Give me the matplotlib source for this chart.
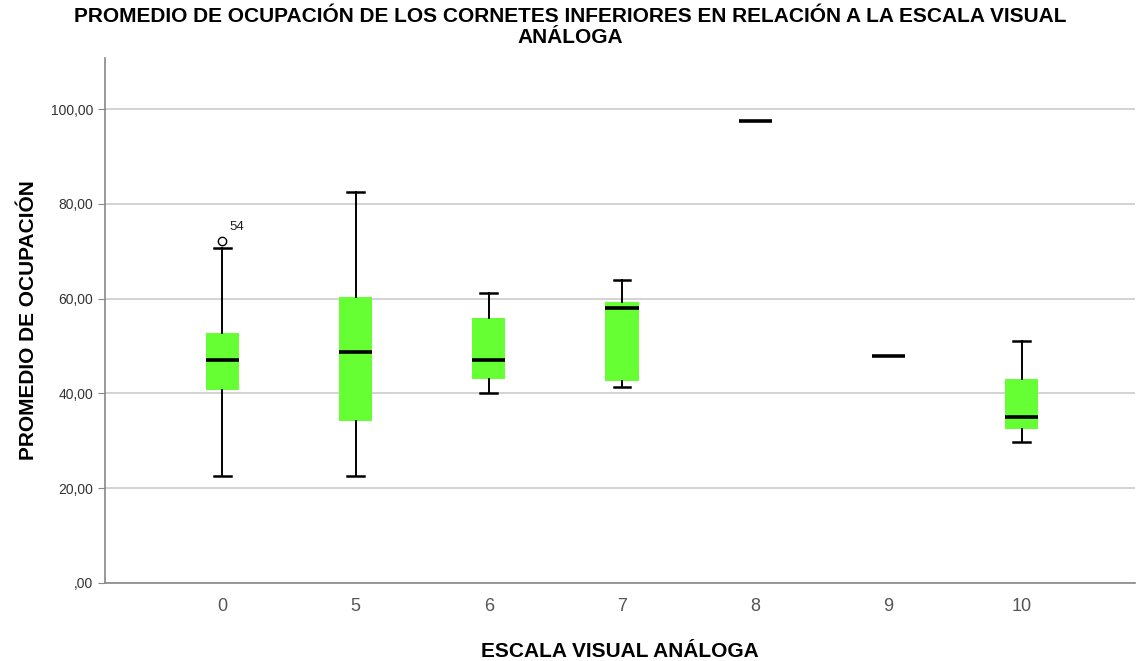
import matplotlib
matplotlib.use("Agg")
import matplotlib.pyplot as plt
from matplotlib.ticker import FuncFormatter

plt.rcParams['font.family'] = ['Liberation Sans', 'DejaVu Sans']

categories = ["0", "5", "6", "7", "8", "9", "10"]
whislo = [22.6, 22.6, 40.1, 41.3, 97.5, 47.9, 29.8]
q1     = [40.7, 34.2, 43.1, 42.6, 97.5, 47.9, 32.5]
median = [47.1, 48.8, 47.1, 58.1, 97.5, 47.9, 35.0]
q3     = [52.7, 60.4, 56.0, 59.3, 97.5, 47.9, 43.0]
whishi = [70.7, 82.5, 61.1, 63.9, 97.5, 47.9, 51.1]
outliers = [[72.2], [], [], [], [], [], []]
outlier_labels = [["54"], [], [], [], [], [], []]

title = "PROMEDIO DE OCUPACIÓN DE LOS CORNETES INFERIORES EN RELACIÓN A LA ESCALA VISUAL\nANÁLOGA"
xlabel = "ESCALA VISUAL ANÁLOGA"
ylabel = "PROMEDIO DE OCUPACIÓN"
yticks = [0, 20, 40, 60, 80, 100]

fig = plt.figure(figsize=(11.41, 6.61), dpi=100)
ax = fig.add_axes([105/1141, 78/661, 1030/1141, 525/661])

stats = []
for i, c in enumerate(categories):
    stats.append(dict(label=c, whislo=whislo[i], q1=q1[i], med=median[i], q3=q3[i],
                      whishi=whishi[i], fliers=outliers[i]))
pos = list(range(len(categories)))
bp = ax.bxp(stats, positions=pos, widths=0.25, patch_artist=True,
            showcaps=True, showfliers=True,
            boxprops=dict(facecolor='#66ff33', edgecolor='#66ff33', linewidth=0),
            medianprops=dict(color='black', linewidth=2.6, solid_capstyle='butt'),
            whiskerprops=dict(color='black', linewidth=1.4),
            capprops=dict(color='black', linewidth=1.8),
            flierprops=dict(marker='o', markerfacecolor='white', markeredgecolor='black',
                            markersize=6, markeredgewidth=1.0),
            capwidths=0.125, zorder=3)
for i in range(len(categories)):
    if whislo[i] == whishi[i]:
        for k in (2*i, 2*i+1):
            bp['caps'][k].set_visible(False)
            bp['whiskers'][k].set_visible(False)

for i, labs in enumerate(outlier_labels):
    for v, lab in zip(outliers[i], labs):
        ax.annotate(lab, (pos[i], v), xytext=(5, 8), textcoords='offset points',
                    fontsize=9.5, color='#222222')

ax.set_xlim(-0.88, 6.85)
ax.set_ylim(0, 110.8)
ax.set_yticks(yticks)
ax.yaxis.set_major_formatter(FuncFormatter(lambda v, p: ("%d,00" % v) if v != 0 else ",00"))
ax.set_xticks(pos)
ax.set_xticklabels(categories)
ax.grid(axis='y', color='#cccccc', linewidth=1.2, zorder=0)
ax.set_axisbelow(True)
for s in ('top', 'right'):
    ax.spines[s].set_visible(False)
for s in ('left', 'bottom'):
    ax.spines[s].set_color('#888888')
    ax.spines[s].set_linewidth(1.2)
ax.tick_params(axis='x', length=0, pad=11, labelsize=13, labelcolor='#555555')
ax.tick_params(axis='y', length=5, color='#888888', labelsize=10, labelcolor='#333333')

ax.set_xlabel(xlabel, fontsize=15, fontweight='bold', labelpad=19)
ax.set_ylabel(ylabel, fontsize=15, fontweight='bold', labelpad=9)
fig.text(0.5, 1 - 7/661, title, ha='center', va='top', fontsize=15, fontweight='bold',
         linespacing=1.12)

fig.savefig("out.png", dpi=100)
